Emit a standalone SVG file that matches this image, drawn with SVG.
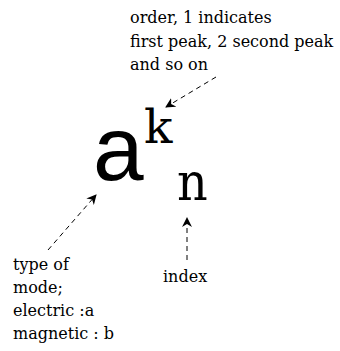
<svg xmlns="http://www.w3.org/2000/svg" width="340" height="351" viewBox="0 0 340 351">
<style>
.lbl{font-family:"DejaVu Serif","Liberation Serif",serif;font-size:16px;fill:#000}
.mono{font-family:"DejaVu Serif","Liberation Serif",serif;fill:#000}
.big{font-family:"Liberation Sans",Arial,sans-serif;font-size:91px;fill:#000}
.con{stroke:#000;stroke-width:1;stroke-dasharray:5,4;fill:none}
</style>
<defs>
<marker id="ah" viewBox="0 0 10 10" refX="9" refY="5" markerWidth="10" markerHeight="10" markerUnits="userSpaceOnUse" orient="auto">
<path d="M0,0 L10,5 L0,10 L3,5 Z" fill="#000"/>
</marker>
</defs>
<rect width="340" height="351" fill="#fff"/>
<g id="connectors">
<line class="con" x1="216" y1="77" x2="166" y2="107" marker-end="url(#ah)"/>
<line class="con" x1="48" y1="250" x2="96" y2="195" marker-end="url(#ah)"/>
<line class="con" x1="187" y1="260" x2="187" y2="218" marker-end="url(#ah)"/>
</g>
<g id="order">
<text class="lbl" x="130" y="23">order, 1 indicates</text>
<text class="lbl" x="130" y="47">first peak, 2 second peak</text>
<text class="lbl" x="130" y="70">and so on</text>
</g>
<g id="symbol">
<text class="big" x="93" y="180">a</text>
<text class="mono" x="144" y="143" font-size="47">k</text>
<text class="mono" x="0" y="200" font-size="53" transform="translate(177,0) scale(0.9,1)">n</text>
</g>
<g id="type">
<text class="lbl" x="13" y="270">type of</text>
<text class="lbl" x="13" y="293">mode;</text>
<text class="lbl" x="13" y="316">electric :a</text>
<text class="lbl" x="13" y="339">magnetic : b</text>
</g>
<g id="index">
<text class="lbl" x="163" y="282">index</text>
</g>
</svg>
